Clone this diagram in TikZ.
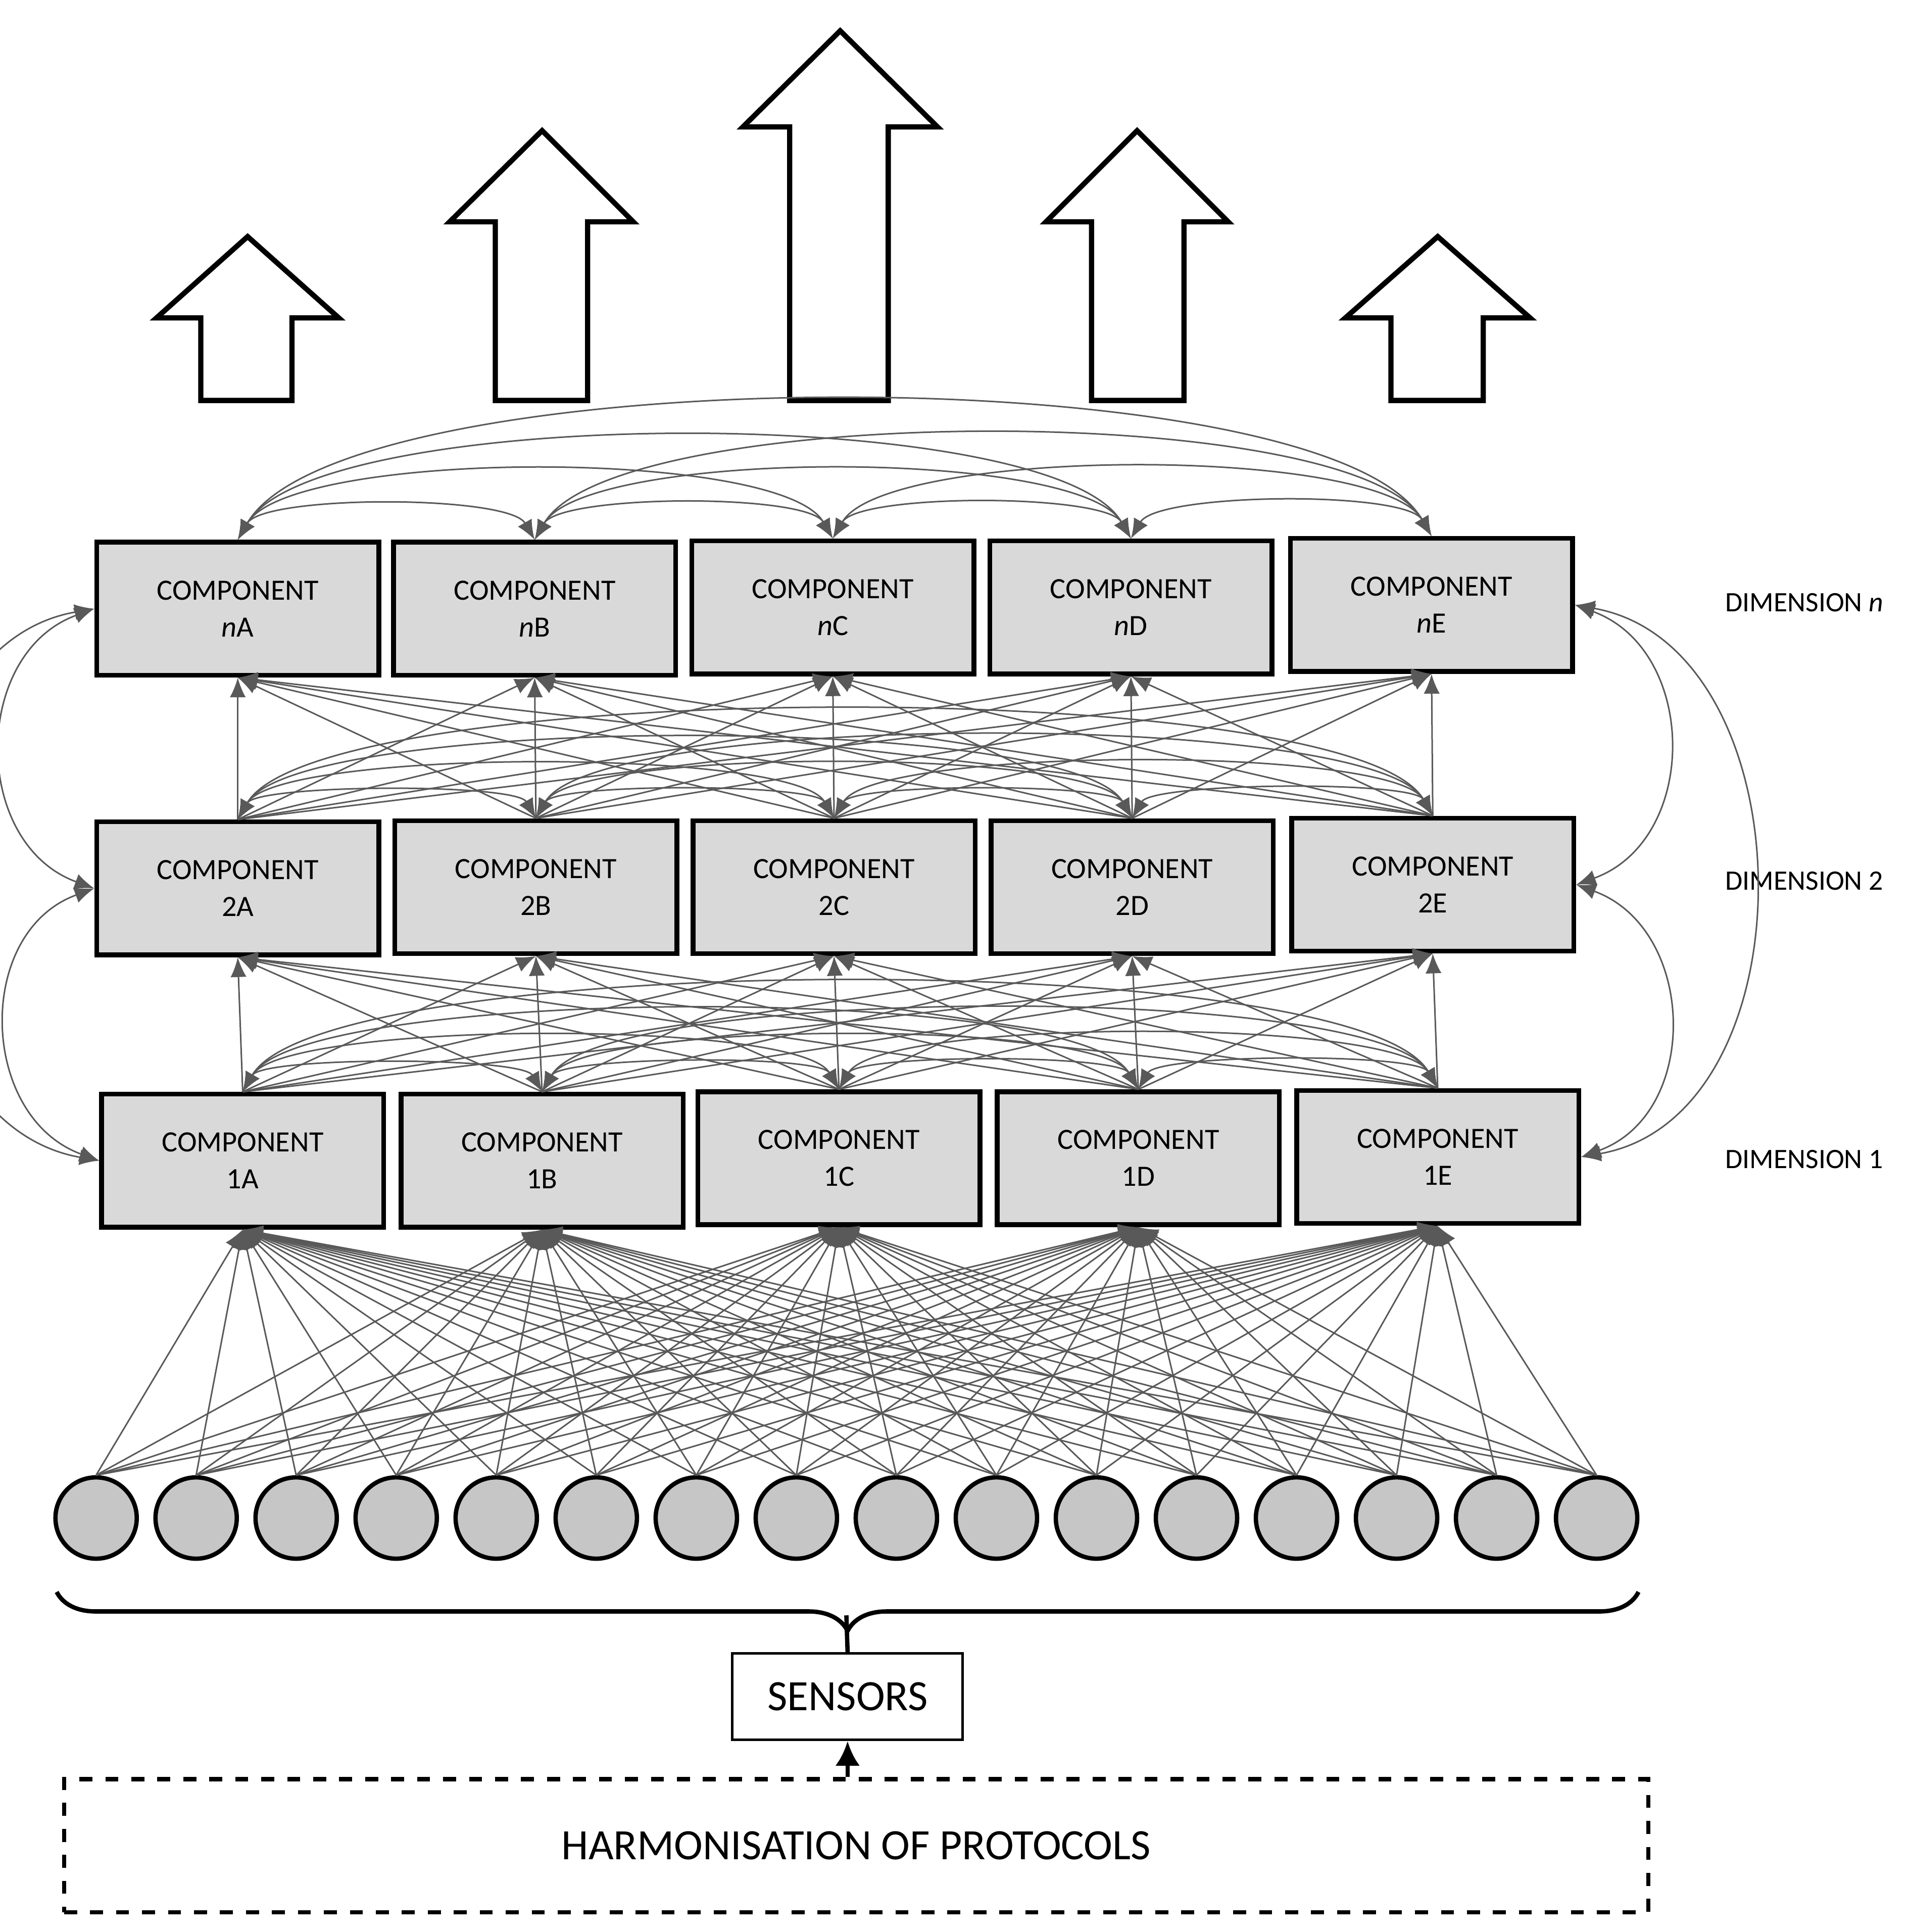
\documentclass[tikz,border=0pt]{standalone}
\usepackage{fontspec}
\setmainfont{Carlito}
\usetikzlibrary{arrows.meta,decorations.pathreplacing}
\begin{document}
\begin{tikzpicture}[x=0.1mm,y=-0.1mm,
  comp/.style={draw=black,line width=1.1pt,fill=gray!30,minimum width=22.9mm,minimum height=10.8mm,align=center,inner sep=1pt,font=\fontsize{6.8}{8.5}\selectfont},
  sens/.style={draw=black,line width=1pt,fill=gray!45,circle,minimum size=6.6mm,inner sep=0pt},
  link/.style={draw=black!65,line width=0.35pt,-{Latex[length=1.6mm,width=1.3mm]}},
  dlink/.style={draw=black!65,line width=0.35pt,{Latex[length=1.6mm,width=1.3mm]}-{Latex[length=1.6mm,width=1.3mm]}},
  big/.style={draw=black,line width=1.2pt,fill=white},
  dim/.style={font=\fontsize{6.5}{8}\selectfont,anchor=west}]
\useasboundingbox (0,0) rectangle (1550,1568);
% big arrows
\draw[big] (163,325)--(163,258)--(127,258)--(201,192)--(275,258)--(237,258)--(237,325)--cycle;
\draw[big] (402,325)--(402,180)--(365,180)--(440,106)--(514,180)--(477,180)--(477,325)--cycle;
\draw[big] (641,325)--(641,103)--(603,103)--(682,25)--(761,103)--(721,103)--(721,325)--cycle;
\draw[big] (886,325)--(886,180)--(849,180)--(923,106)--(997,180)--(961,180)--(961,325)--cycle;
\draw[big] (1129,325)--(1129,258)--(1092,258)--(1167,192)--(1242,258)--(1204,258)--(1204,325)--cycle;
% boxes
\foreach \L/\x/\y in {A/193/494,B/434/494,C/676/493,D/918/493,E/1162/491}
  \node[comp] (bn\L) at (\x,\y) {COMPONENT\\\textit{n}\L};
\foreach \L/\x/\y in {A/193/721,B/435/720,C/677/720,D/919/720,E/1163/718}
  \node[comp] (b2\L) at (\x,\y) {COMPONENT\\2\L};
\foreach \L/\x/\y in {A/197/942,B/440/942,C/681/940,D/924/940,E/1167/939}
  \node[comp] (b1\L) at (\x,\y) {COMPONENT\\1\L};
\node[dim] (dn) at (1388,489) {DIMENSION \textit{n}};
\node[dim] (d2) at (1388,715) {DIMENSION 2};
\node[dim] (d1) at (1388,941) {DIMENSION 1};
% sensors
\foreach \i in {1,...,16}
  \node[sens] (s\i) at ({78+(\i-1)*81.2},1232) {};
\foreach \i in {1,...,16}
  \foreach \L in {A,B,C,D,E}
    \draw[link] (s\i.north) -- (b1\L.south);
% layer links
\foreach \i in {A,B,C,D,E}
  \foreach \j in {A,B,C,D,E}{
    \draw[link] (b1\i.north) -- (b2\j.south);
    \draw[link] (b2\i.north) -- (bn\j.south);
  }
\foreach \i/\j in {A/B,A/C,A/D,A/E,B/C,B/D,B/E,C/D,C/E,D/E}{
    \draw[dlink] (b1\i.north) to[out=60,in=120,looseness=0.35] (b1\j.north);
    \draw[dlink] (b2\i.north) to[out=60,in=120,looseness=0.35] (b2\j.north);
    \draw[dlink] (bn\i.north) to[out=60,in=120,looseness=0.45] (bn\j.north);
}
% side links
\draw[dlink] (bnA.west) to[out=200,in=160,looseness=1.2] (b2A.west);
\draw[dlink] (b2A.west) to[out=200,in=160,looseness=1.2] (b1A.west);
\draw[dlink] (bnA.west) to[out=190,in=170,looseness=1.1] (b1A.west);
\draw[dlink] (bnE.east) to[out=-20,in=20,looseness=1.2] (b2E.east);
\draw[dlink] (b2E.east) to[out=-20,in=20,looseness=1.2] (b1E.east);
\draw[dlink] (bnE.east) to[out=-10,in=10,looseness=1.1] (b1E.east);
% brace
\draw[line width=1pt,decorate,decoration={brace,mirror,amplitude=9pt}] (46,1292) -- (1330,1292);
\node[draw=black,line width=0.6pt,minimum width=18.7mm,minimum height=7mm,font=\fontsize{10}{12}\selectfont] (sn) at (688,1377) {SENSORS};
\draw[line width=1pt] (687,1311) -- (sn.north);
\node[draw=black,dashed,line width=1pt,minimum width=128.6mm,minimum height=10.8mm,font=\fontsize{10}{12}\selectfont] (hp) at (695,1498) {HARMONISATION OF PROTOCOLS};
\draw[line width=1pt,-{Latex[length=2mm,width=2mm]}] (hp.north -| sn.south) -- (sn.south);
\end{tikzpicture}
\end{document}
